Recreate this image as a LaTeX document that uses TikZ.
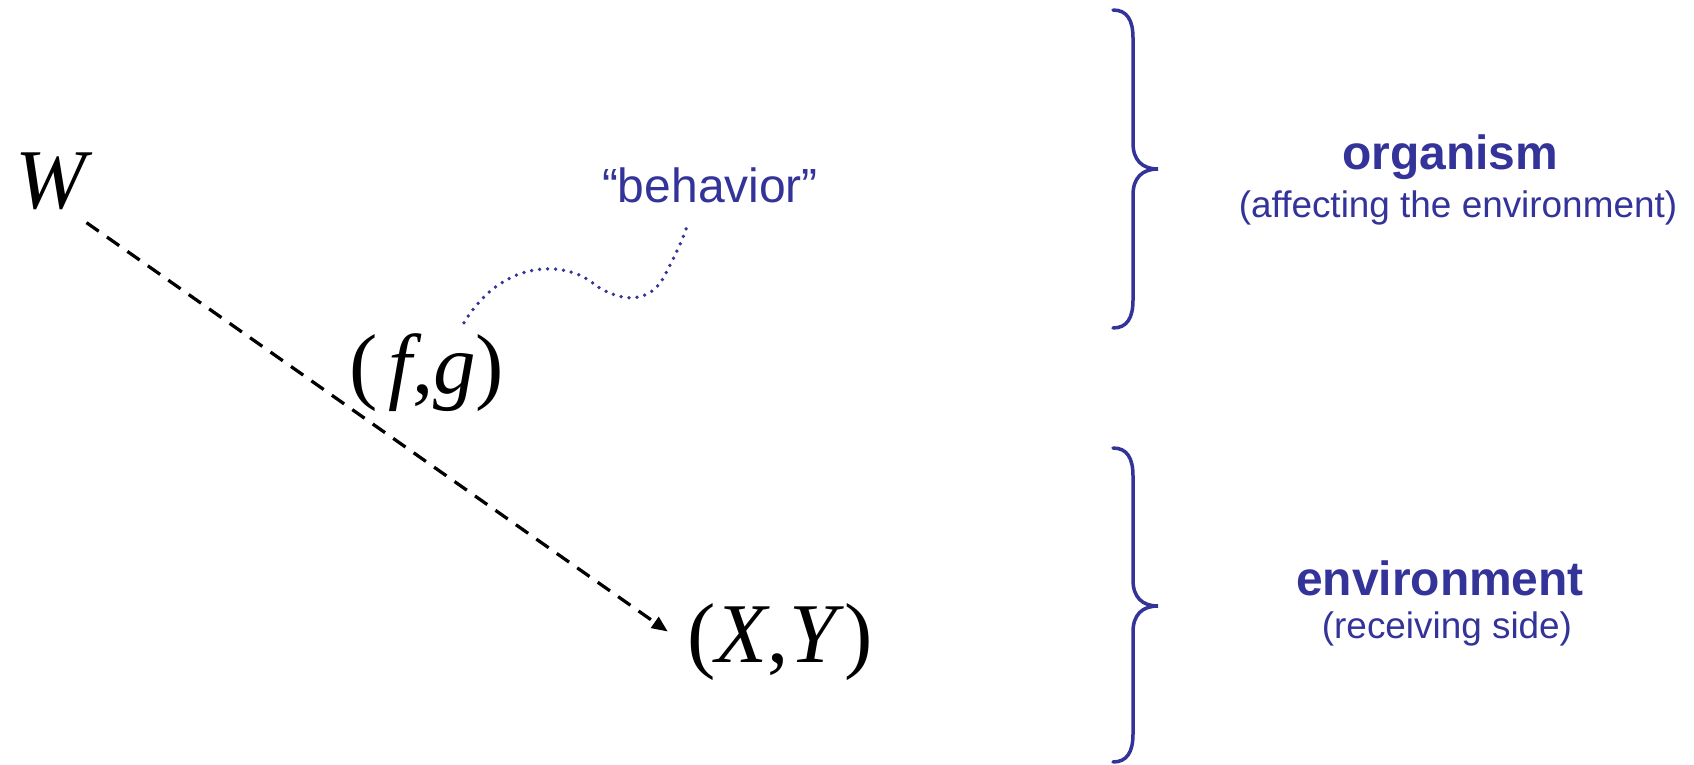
\documentclass[tikz,border=0pt]{standalone}
\usepackage{fontspec}
\setmainfont{Liberation Serif}
\setsansfont{Liberation Sans}
\usetikzlibrary{arrows.meta}

\definecolor{orgblue}{RGB}{51, 51, 153}

\begin{document}
\begin{tikzpicture}[
    varsym/.style={inner sep=0pt, anchor=base, font=\fontsize{48.4}{58}\selectfont},
    heading/.style={inner sep=0pt, anchor=base, text=orgblue, font=\sffamily\bfseries\fontsize{27.3}{33}\selectfont},
    tagline/.style={inner sep=0pt, anchor=base, text=orgblue, font=\sffamily\fontsize{27.3}{33}\selectfont},
    subline/.style={inner sep=0pt, anchor=base, text=orgblue, font=\sffamily\fontsize{21}{25}\selectfont},
    curlybar/.style={draw=orgblue, line width=0.07cm, line cap=round},
  ]
    \useasboundingbox (0,0) rectangle (33.88,-15.3);

    % === variables ===
    \node[varsym] (W) at (1.08, -4.16) {\textit{W}};
    \node[varsym] (fg) at (8.54, -7.86) {(\kern.12em\textit{f},\textit{g})};
    \node[varsym] (XY) at (15.6, -13.24) {(\textit{X},\textit{Y})};

    % W -> (X,Y)
    \draw[line width=0.065cm, dash pattern=on 0.3cm off 0.2cm,
          -{Triangle[length=0.32cm, width=0.26cm]}]
      ([xshift=-0.13cm, yshift=-0.26cm]W.south east) -- ([xshift=-0.39cm, yshift=0.2cm]XY.west);

    % --- "behavior" tag and its dotted squiggle ---
    \node[tagline] (beh) at (14.2, -4.04) {“behavior”};
    \draw[orgblue, line width=0.075cm, line cap=round, dash pattern=on 0pt off 0.16cm]
      ([xshift=0.74cm, yshift=0.2cm]fg.north)
      .. controls (10.1,-5.1) and (11.4,-5.24) .. (11.9,-5.7)
      .. controls (12.4,-6.04) and (13.0,-6.1) .. (13.3,-5.5)
      .. controls (13.5,-5.1) and (13.66,-4.8) .. ([xshift=-0.44cm, yshift=-0.4cm]beh.south);

    % === braces on the right ===
    \foreach \yt/\ym/\yb in {-0.2/-3.38/-6.56, -8.96/-12.12/-15.24} {
      \draw[curlybar] (22.26,\yt) .. controls (22.54,\yt) and (22.66,\yt-0.2) .. (22.66,\yt-0.56)
        -- (22.66,\ym+0.52) .. controls (22.66,\ym+0.18) and (22.84,\ym) .. (23.16,\ym)
        .. controls (22.84,\ym) and (22.66,\ym-0.18) .. (22.66,\ym-0.52)
        -- (22.66,\yb+0.56) .. controls (22.66,\yb+0.2) and (22.54,\yb) .. (22.26,\yb);
    }

    % --- brace labels ---
    \node[heading] (org) at (29.0, -3.4) {organism};
    \node[subline] (orgsub) at (29.16, -4.34) {(affecting the environment)};
    \node[heading] (env) at (28.8, -11.9) {environment};
    \node[subline] (envsub) at (28.94, -12.76) {(receiving side)};
\end{tikzpicture}
\end{document}
